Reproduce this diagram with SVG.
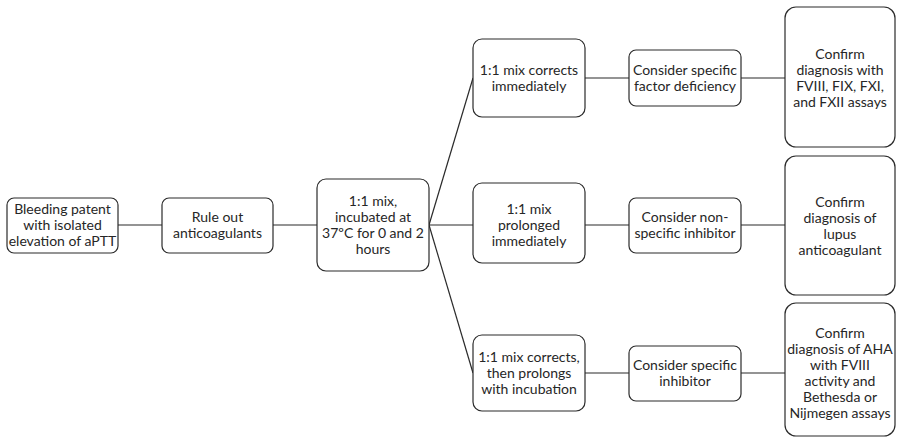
<svg xmlns="http://www.w3.org/2000/svg" width="897" height="439" viewBox="0 0 897 439">
<style>
.box{fill:#fff;stroke:#2b2b2b;stroke-width:1.2}
.t{font-family:Lato,"Open Sans",sans-serif;font-size:14px;fill:#262626;text-anchor:middle}
.c{stroke:#2b2b2b;stroke-width:1.2;fill:none}
</style>
<rect width="897" height="439" fill="#fff"/>
<g id="connectors">
<line class="c" x1="118" y1="225" x2="162" y2="225"/>
<line class="c" x1="273" y1="225" x2="317" y2="225"/>
<line class="c" x1="429" y1="225" x2="473" y2="225"/>
<line class="c" x1="429" y1="225" x2="473" y2="78"/>
<line class="c" x1="429" y1="225" x2="473" y2="373"/>
<line class="c" x1="585" y1="78" x2="629" y2="78"/>
<line class="c" x1="585" y1="225" x2="629" y2="225"/>
<line class="c" x1="585" y1="373" x2="629" y2="373"/>
<line class="c" x1="741" y1="78" x2="785" y2="78"/>
<line class="c" x1="741" y1="225" x2="785" y2="225"/>
<line class="c" x1="741" y1="373" x2="785" y2="373"/>
</g>
<g id="n1"><rect class="box" x="7" y="198" width="111" height="55" rx="7"/>
<text class="t" x="62.5" y="214">Bleeding patent</text><text class="t" x="62.5" y="230">with isolated</text><text class="t" x="62.5" y="246">elevation of aPTT</text></g>
<g id="n2"><rect class="box" x="162" y="198" width="111" height="55" rx="7"/>
<text class="t" x="217.5" y="222">Rule out</text><text class="t" x="217.5" y="238">anticoagulants</text></g>
<g id="n3"><rect class="box" x="317" y="179" width="112" height="92" rx="9"/>
<text class="t" x="373" y="206">1:1 mix,</text><text class="t" x="373" y="222">incubated at</text><text class="t" x="373" y="238">37ºC for 0 and 2</text><text class="t" x="373" y="254">hours</text></g>
<g id="n4"><rect class="box" x="473" y="39" width="112" height="78" rx="9"/>
<text class="t" x="529" y="75">1:1 mix corrects</text><text class="t" x="529" y="91">immediately</text></g>
<g id="n5"><rect class="box" x="473" y="183" width="112" height="80" rx="9"/>
<text class="t" x="529" y="214">1:1 mix</text><text class="t" x="529" y="230">prolonged</text><text class="t" x="529" y="246">immediately</text></g>
<g id="n6"><rect class="box" x="473" y="335" width="112" height="76" rx="9"/>
<text class="t" x="529" y="362">1:1 mix corrects,</text><text class="t" x="529" y="378">then prolongs</text><text class="t" x="529" y="394">with incubation</text></g>
<g id="n7"><rect class="box" x="629" y="50" width="112" height="56" rx="7"/>
<text class="t" x="685" y="75">Consider specific</text><text class="t" x="685" y="91">factor deficiency</text></g>
<g id="n8"><rect class="box" x="629" y="198" width="112" height="55" rx="7"/>
<text class="t" x="685" y="222">Consider non-</text><text class="t" x="685" y="238">specific inhibitor</text></g>
<g id="n9"><rect class="box" x="629" y="346" width="112" height="55" rx="7"/>
<text class="t" x="685" y="370">Consider specific</text><text class="t" x="685" y="386">inhibitor</text></g>
<g id="n10"><rect class="box" x="785" y="7" width="110" height="140" rx="11"/>
<text class="t" x="840" y="59">Confirm</text><text class="t" x="840" y="75">diagnosis with</text><text class="t" x="840" y="91">FVIII, FIX, FXI,</text><text class="t" x="840" y="107">and FXII assays</text></g>
<g id="n11"><rect class="box" x="785" y="156" width="110" height="139" rx="11"/>
<text class="t" x="840" y="207">Confirm</text><text class="t" x="840" y="223">diagnosis of</text><text class="t" x="840" y="239">lupus</text><text class="t" x="840" y="255">anticoagulant</text></g>
<g id="n12"><rect class="box" x="785" y="303" width="110" height="133" rx="11"/>
<text class="t" x="840" y="338">Confirm</text><text class="t" x="840" y="354">diagnosis of AHA</text><text class="t" x="840" y="370">with FVIII</text><text class="t" x="840" y="386">activity and</text><text class="t" x="840" y="402">Bethesda or</text><text class="t" x="840" y="418">Nijmegen assays</text></g>
</svg>
